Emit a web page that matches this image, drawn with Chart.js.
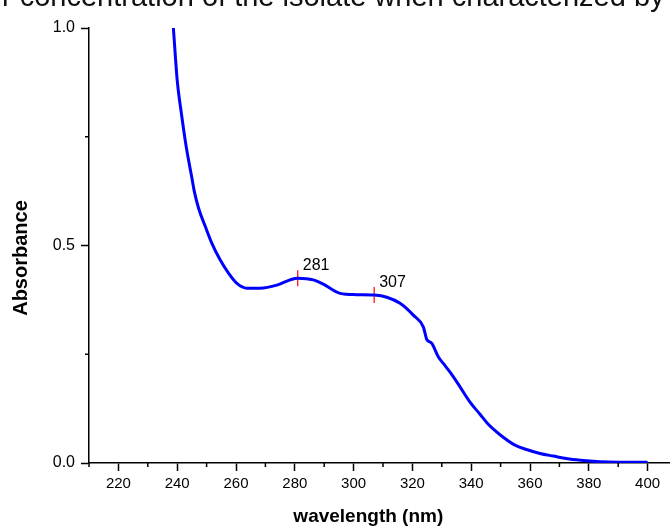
<!DOCTYPE html>
<html>
<head>
<meta charset="utf-8">
<script src="https://cdn.jsdelivr.net/npm/chart.js@4.4.0/dist/chart.umd.min.js"></script>
<style>
  body { margin: 0; overflow: hidden; background: #fff; }
  #wrap { position: relative; width: 670px; height: 528px; overflow: hidden; }
  #box { position: absolute; left: 0; top: 0; width: 700px; height: 528px; }
  #cut { position: absolute; left: 2px; top: -18px; font: 29px "Liberation Sans", Arial, sans-serif; line-height: 29px; white-space: nowrap; color: #111; }
</style>
</head>
<body>
<div id="wrap">
  <div id="box"><canvas id="uv"></canvas></div>
  <div id="cut">r concentration of the isolate when characterized by</div>
</div>
<script>
// spectrum
const wavelength = [238.7, 240.0, 241.5, 243.0, 245.0, 245.8, 247.3, 249.6, 251.8, 254.6, 257.5, 260.3, 263.7, 268.2, 273.9, 278.4, 281.0, 286.3, 289.7, 295.4, 301.0, 307.0, 311.3, 315.8, 320.3, 323.7, 324.9, 326.6, 328.8, 330.5, 333.0, 336.2, 339.6, 343.0, 345.8, 349.8, 354.9, 358.8, 363.4, 367.9, 373.5, 379.2, 383.7, 390.0, 400.0];
const absorbance = [1.0, 0.88, 0.80, 0.73, 0.655, 0.625, 0.585, 0.543, 0.505, 0.467, 0.436, 0.413, 0.402, 0.402, 0.409, 0.421, 0.425, 0.421, 0.411, 0.390, 0.387, 0.386, 0.381, 0.367, 0.340, 0.313, 0.284, 0.275, 0.244, 0.229, 0.207, 0.175, 0.140, 0.112, 0.089, 0.065, 0.041, 0.031, 0.022, 0.016, 0.009, 0.005, 0.003, 0.002, 0.002];

// marked peaks
const peakX = [281, 307];
const peakY = [0.425, 0.386];
const peakLabels = ['281', '307'];

const xTicksMajor = 20;
const yTicksMajor = 0.5;

const FONT = '"Liberation Sans", Arial, sans-serif';

let spectrum = wavelength.map((w, i) => ({ x: w, y: absorbance[i] }));
let peaks = peakX.map((w, i) => ({ x: w, y: peakY[i] }));

function isMajor(v, step) {
    let r = Math.abs(v / step - Math.round(v / step));
    return r < 1e-6;
}

// short minor ticks, peak numbers and axis titles
const extras = {
    id: 'extras',
    afterDraw(chart) {
        const ctx = chart.ctx;
        const xs = chart.scales.x;
        const ys = chart.scales.y;
        ctx.save();
        ctx.strokeStyle = '#000';
        ctx.lineWidth = 1.5;
        xs.ticks.forEach(t => {
            if (isMajor(t.value, xTicksMajor)) return;
            let px = xs.getPixelForValue(t.value);
            ctx.beginPath();
            ctx.moveTo(px, xs.top);
            ctx.lineTo(px, xs.top + 4);
            ctx.stroke();
        });
        ys.ticks.forEach(t => {
            if (isMajor(t.value, yTicksMajor)) return;
            let py = ys.getPixelForValue(t.value);
            ctx.beginPath();
            ctx.moveTo(ys.right, py);
            ctx.lineTo(ys.right - 4, py);
            ctx.stroke();
        });

        ctx.fillStyle = '#000';
        ctx.font = '16px ' + FONT;
        ctx.textAlign = 'left';
        ctx.textBaseline = 'alphabetic';
        peaks.forEach((p, i) => {
            let px = xs.getPixelForValue(p.x);
            let py = ys.getPixelForValue(p.y);
            ctx.fillText(peakLabels[i], px + 5, py - 8);
        });

        ctx.textAlign = 'center';
        ctx.textBaseline = 'middle';
        ctx.font = 'bold 19px ' + FONT;
        ctx.fillText('wavelength (nm)', xs.getPixelForValue(305), 517);
        ctx.font = 'bold 20px ' + FONT;
        ctx.translate(21, 258);
        ctx.rotate(-Math.PI / 2);
        ctx.fillText('Absorbance', 0, 0);
        ctx.restore();
    }
};

const uv = document.getElementById('uv');
let uvChart = new Chart(uv, {
    type: 'line',
    data: {
        datasets: [
            {
                label: 'spectrum',
                data: spectrum,
                borderColor: '#0000ff',
                borderWidth: 3,
                pointRadius: 0,
                cubicInterpolationMode: 'monotone',
                fill: false
            },
            {
                label: 'peaks',
                data: peaks,
                showLine: false,
                pointStyle: 'line',
                rotation: 90,
                pointRadius: 8,
                borderColor: '#ff0000',
                borderWidth: 1.2
            }
        ]
    },
    options: {
        responsive: true,
        maintainAspectRatio: false,
        animation: false,
        layout: { padding: { top: 28, right: 23, left: 0, bottom: 0 } },
        plugins: {
            legend: { display: false },
            tooltip: { enabled: false }
        },
        scales: {
            x: {
                type: 'linear',
                min: 210,
                max: 410,
                afterFit(scale) { scale.height = 65; },
                grid: {
                    drawOnChartArea: false,
                    tickLength: 8,
                    tickWidth: 1.5,
                    tickColor: c => isMajor(c.tick.value, xTicksMajor) ? '#000' : 'rgba(0,0,0,0)'
                },
                border: { color: '#000', width: 1.5 },
                ticks: {
                    stepSize: 10,
                    autoSkip: false,
                    maxRotation: 0,
                    padding: 4,
                    color: '#000',
                    font: { size: 15, family: FONT },
                    callback: v => (isMajor(v, xTicksMajor) && v >= 220 && v <= 400) ? String(v) : ''
                }
            },
            y: {
                type: 'linear',
                min: 0,
                max: 1,
                afterFit(scale) { scale.width = 89; },
                grid: {
                    drawOnChartArea: false,
                    tickLength: 8,
                    tickWidth: 1.5,
                    tickColor: c => isMajor(c.tick.value, yTicksMajor) ? '#000' : 'rgba(0,0,0,0)'
                },
                border: { color: '#000', width: 1.5 },
                ticks: {
                    stepSize: 0.25,
                    autoSkip: false,
                    padding: 6,
                    color: '#000',
                    font: { size: 16, family: FONT },
                    callback: v => isMajor(v, yTicksMajor) ? v.toFixed(1) : ''
                }
            }
        }
    },
    plugins: [extras]
});
</script>
</body>
</html>
